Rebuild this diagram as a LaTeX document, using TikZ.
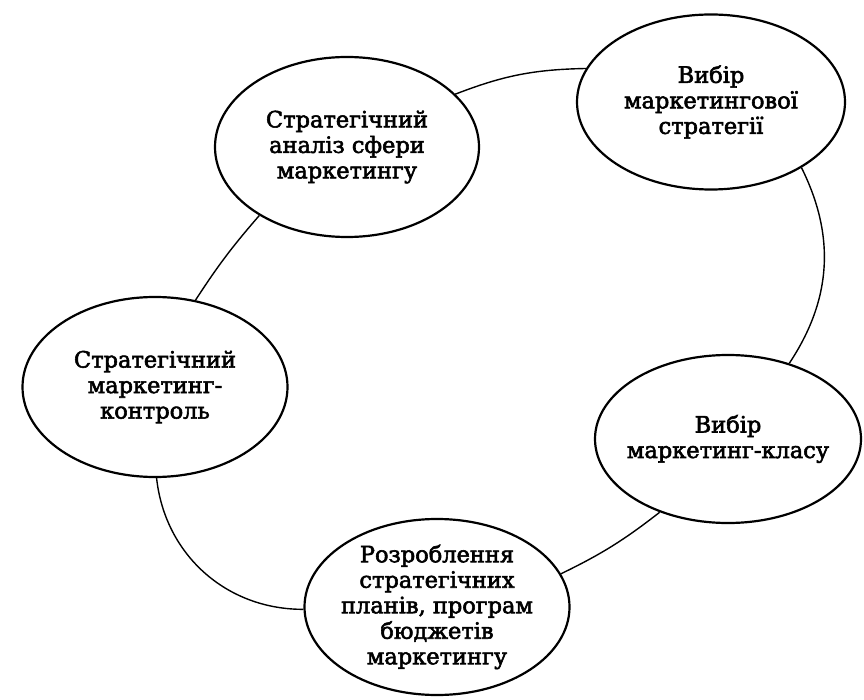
\documentclass[tikz,border=0pt]{standalone}
\usepackage{fontspec}
\setmainfont[FakeBold=2.5]{DejaVu Serif}
\usetikzlibrary{shapes.geometric}
\tikzset{
  oval/.style={draw, ellipse, line width=2.2pt, inner sep=0pt},
  txt/.style={align=center, inner sep=0pt, font=\fontsize{22.5}{25.5}\selectfont},
  link/.style={line width=1.4pt}
}
\begin{document}
\begin{tikzpicture}[x=1pt,y=-1pt]
\useasboundingbox (0,0) rectangle (864,700);
\node[oval, minimum width=264pt, minimum height=180pt] (a) at (347,147) {};
\node[oval, minimum width=268pt, minimum height=175pt] (b) at (711,102) {};
\node[oval, minimum width=266pt, minimum height=168pt] (c) at (728,439) {};
\node[oval, minimum width=265pt, minimum height=176pt] (d) at (437,607) {};
\node[oval, minimum width=265pt, minimum height=180pt] (e) at (155,387) {};
\node[txt] (at) at (a) {Стратегічний\\аналіз сфери\\маркетингу};
\node[txt] (bt) at (b) {Вибір\\маркетингової\\стратегії};
\node[txt] (ct) at (c) {Вибір\\маркетинг-класу};
\node[txt] (dt) at (d) {Розроблення\\стратегічних\\планів, програм\\бюджетів\\маркетингу};
\node[txt] (et) at (e) {Стратегічний\\маркетинг-\\контроль};
\draw[link] (a.26) to[bend left=10] (b.165);
\draw[link] (b.-36) to[bend left=30] (c.51);
\draw[link] (c.227) to[bend left=6] (d.15);
\draw[link] (d.181) to[bend left=42] (e.271);
\draw[link] (e.65) to[bend left=4] (a.218);
\end{tikzpicture}
\end{document}
